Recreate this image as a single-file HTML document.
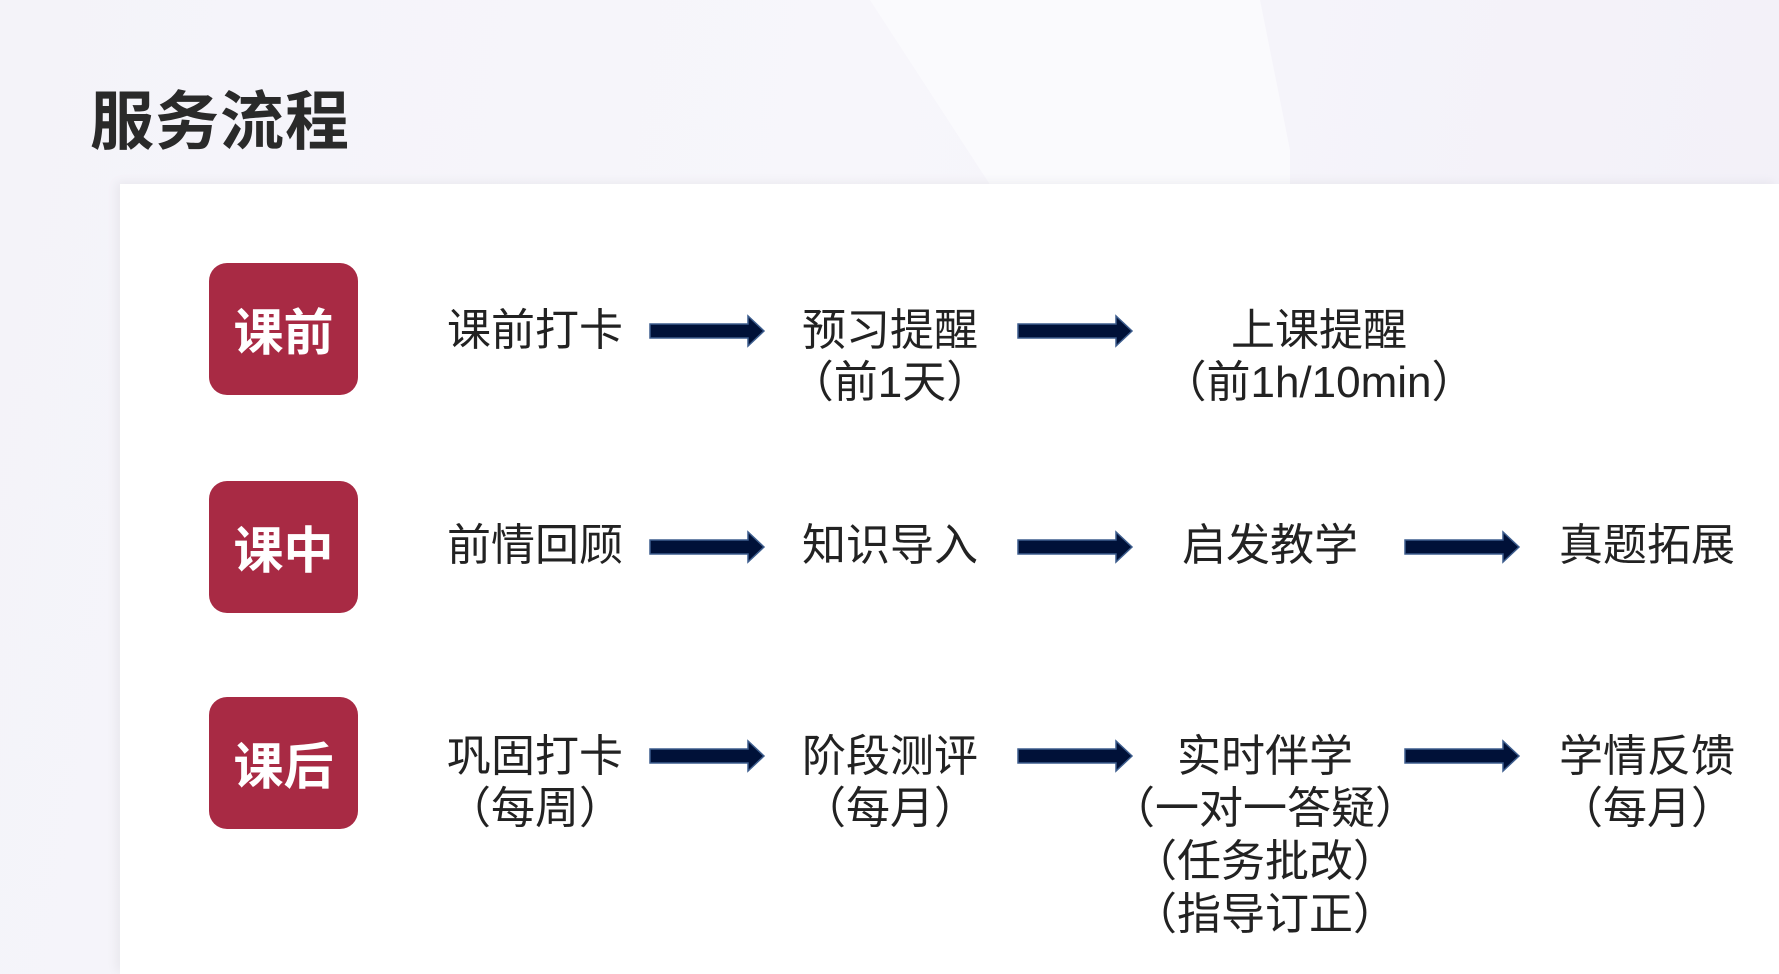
<!DOCTYPE html>
<html><head><meta charset="utf-8"><style>
body{margin:0;width:1779px;height:974px;overflow:hidden;position:relative;font-family:"Liberation Sans","Noto Sans CJK SC",sans-serif;background:linear-gradient(100deg,#f4f3f9 0%,#f7f6fb 45%,#f2f0f8 100%);}
.sw{position:absolute;left:870px;top:0;width:420px;height:200px;background:#fafafd;clip-path:polygon(0 0,390px 0,430px 200px,130px 200px);}
.title{position:absolute;left:90px;top:71px;font-size:64px;font-weight:bold;color:#2a2a2a;letter-spacing:1px;}
.panel{position:absolute;left:120px;top:184px;right:0;bottom:0;background:#fff;box-shadow:-4px -2px 10px rgba(0,0,0,0.05);}
.badge{position:absolute;left:209px;width:149px;height:132px;border-radius:18px;background:#a82a44;color:#fff;font-weight:bold;font-size:50px;display:flex;align-items:center;justify-content:center;}
.t{position:absolute;font-size:44px;color:#222;text-align:center;white-space:nowrap;transform:translateX(-50%);}
.t div{height:53px;line-height:52px;}
.t div+div{position:relative;top:-6px;}
.p{font-family:"Noto Sans CJK SC",sans-serif;}
svg{position:absolute;left:0;top:0}
</style></head><body>
<div class="sw"></div>
<div class="title">服务流程</div>
<div class="panel"></div>
<div class="badge" style="top:263px">课前</div>
<div class="badge" style="top:481px">课中</div>
<div class="badge" style="top:697px">课后</div>

<div class="t" style="left:535px;top:305px"><div>课前打卡</div></div>
<div class="t" style="left:890px;top:305px"><div>预习提醒</div><div><span class="p">（</span>前1天<span class="p">）</span></div></div>
<div class="t" style="left:1319px;top:305px"><div>上课提醒</div><div><span class="p">（</span>前1h/10min<span class="p">）</span></div></div>

<div class="t" style="left:535px;top:520px"><div>前情回顾</div></div>
<div class="t" style="left:890px;top:520px"><div>知识导入</div></div>
<div class="t" style="left:1270px;top:520px"><div>启发教学</div></div>
<div class="t" style="left:1647px;top:520px"><div>真题拓展</div></div>

<div class="t" style="left:535px;top:731px"><div>巩固打卡</div><div><span class="p">（</span>每周<span class="p">）</span></div></div>
<div class="t" style="left:890px;top:731px"><div>阶段测评</div><div><span class="p">（</span>每月<span class="p">）</span></div></div>
<div class="t" style="left:1265px;top:731px"><div>实时伴学</div><div><span class="p">（</span>一对一答疑<span class="p">）</span></div><div><span class="p">（</span>任务批改<span class="p">）</span></div><div><span class="p">（</span>指导订正<span class="p">）</span></div></div>
<div class="t" style="left:1647px;top:731px"><div>学情反馈</div><div><span class="p">（</span>每月<span class="p">）</span></div></div>
<svg width="1779" height="974">
<defs><path id="a" d="M0,-7 L98,-7 L98,-15 L114,0 L98,15 L98,7 L0,7 Z" fill="#001138" stroke="#3d5d8d" stroke-width="1.5"/></defs>
<use href="#a" x="650" y="331"/><use href="#a" x="1018" y="331"/>
<use href="#a" x="650" y="547"/><use href="#a" x="1018" y="547"/><use href="#a" x="1405" y="547"/>
<use href="#a" x="650" y="756"/><use href="#a" x="1018" y="756"/><use href="#a" x="1405" y="756"/>
</svg>
</body></html>
